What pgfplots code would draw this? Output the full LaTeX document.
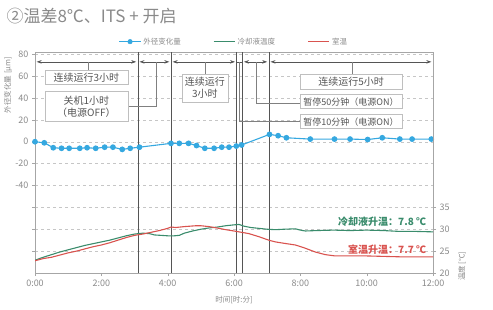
\documentclass[border=0pt]{standalone}
\usepackage{pgfplots}
\pgfplotsset{compat=1.18}
\usepackage{fontspec}
\setmainfont{Noto Sans CJK SC}
\usetikzlibrary{arrows.meta}
\definecolor{cblue}{HTML}{35A8E0}
\definecolor{cgreen}{HTML}{3A8C6C}
\definecolor{cred}{HTML}{D9534F}
\definecolor{tgray}{HTML}{8A8A8A}
\definecolor{agray}{HTML}{555555}
\begin{document}
\begin{tikzpicture}
\useasboundingbox (0,0) rectangle (493pt,309pt);
\node[anchor=west, text=tgray, font=\fontsize{17}{18}\selectfont] at (3pt,293pt) {②温差8℃、ITS + 开启};
\begin{axis}[
  at={(35pt,36pt)}, anchor=south west,
  width=398pt, height=221pt, scale only axis,
  xmin=0, xmax=12, ymin=-120, ymax=82,
  xtick={0,2,...,12}, xticklabels={0:00,2:00,4:00,6:00,8:00,10:00,12:00},
  ytick={-100,-80,...,80}, yticklabels={,,,-40,-20,0,20,40,60,80},
  xtick pos=bottom, ytick pos=left,
  tick align=outside, major tick length=3pt,
  ymajorgrids, grid style={dashed, gray!45},
  axis line style={gray!70},
  tick style={gray!70},
  /pgf/number format/assume math mode=true,
  ticklabel style={text=tgray, font=\fontsize{9}{10}\selectfont},
  xlabel={时间[时:分]}, xlabel style={text=tgray, font=\fontsize{7.5}{8}\selectfont, at={(axis description cs:0.5,-0.09)}, anchor=north},
  ylabel={外径变化量 [μm]}, ylabel style={text=tgray, font=\fontsize{7.5}{8}\selectfont, at={(axis description cs:-0.068,0.85)}, anchor=center},
  clip=false,
]
\addplot[cblue, line width=1.1pt, mark=*, mark size=2.3pt, mark options={fill=cblue, draw=cblue}] coordinates {
(0,0) (0.28,-1) (0.55,-5.5) (0.8,-6) (1.03,-6) (1.35,-6) (1.57,-5.5) (1.83,-6)
(2.1,-5) (2.35,-5) (2.63,-7) (2.87,-6) (3.15,-5)
(4.1,-1.5) (4.35,-1.5) (4.63,-1.5) (4.87,-3.5) (5.12,-6) (5.4,-6) (5.63,-5) (5.85,-5)
(6.07,-4) (6.23,-3) (7.07,6.7) (7.33,5.5) (7.58,3.6) (8.3,2.4) (9.03,2.4) (9.5,2.4)
(10.03,2) (10.47,3.6) (11,2.4) (11.37,2.4) (11.95,2.4)
};
% event lines
\foreach \xx in {3.1,4.1,6.08,6.25,7.05} {
  \edef\temp{\noexpand\draw[agray, line width=0.5pt] (axis cs:\xx,-120) -- (axis cs:\xx,82);}
  \temp
}
% arrows
\tikzset{evarr/.style={agray, line width=0.6pt, {Stealth[length=5pt,width=3.5pt]}-{Stealth[length=5pt,width=3.5pt]}}}
\draw[evarr] (axis cs:0.05,73) -- (axis cs:3.05,73);
\draw[evarr] (axis cs:3.15,73) -- (axis cs:4.05,73);
\draw[evarr] (axis cs:4.15,73) -- (axis cs:6.03,73);
\draw[agray, line width=0.6pt] (axis cs:6.08,73) -- (axis cs:6.25,73);
\draw[evarr] (axis cs:6.3,73) -- (axis cs:7.0,73);
\draw[evarr] (axis cs:7.1,73) -- (axis cs:11.95,73);
% connectors
\draw[gray, line width=0.5pt] (axis cs:1.6,73) -- (axis cs:1.6,65);
\draw[gray, line width=0.5pt] (axis cs:2.8,32) -- (axis cs:3.66,32) -- (axis cs:3.66,73);
\draw[gray, line width=0.5pt] (axis cs:5.12,73) -- (axis cs:5.12,62);
\draw[gray, line width=0.5pt] (axis cs:9.56,73) -- (axis cs:9.56,62);
\draw[gray, line width=0.5pt] (axis cs:8.0,35.6) -- (axis cs:6.66,35.6) -- (axis cs:6.66,73);
\draw[gray, line width=0.5pt] (axis cs:8.0,18.3) -- (axis cs:6.16,18.3) -- (axis cs:6.16,73);
% boxes
\tikzset{bx/.style={draw=gray!50, fill=white, line width=0.5pt, text=agray, font=\fontsize{10}{12}\selectfont, inner sep=1pt, align=center}}
\node[bx, minimum width=83pt, minimum height=14pt] at (axis cs:1.55,58.5) {连续运行3小时};
\node[bx, minimum width=83pt, minimum height=30pt] at (axis cs:1.55,32) {关机1小时\\（电源OFF）};
\node[bx, minimum width=46pt, minimum height=28pt] at (axis cs:5.12,49) {连续运行\\3小时};
\node[bx, minimum width=102pt, minimum height=15pt] at (axis cs:9.53,55) {连续运行5小时};
\node[bx, minimum width=102pt, minimum height=14pt, font=\fontsize{9}{11}\selectfont] at (axis cs:9.53,36.6) {暂停50分钟（电源ON）};
\node[bx, minimum width=102pt, minimum height=14pt, font=\fontsize{9}{11}\selectfont] at (axis cs:9.53,18.3) {暂停10分钟（电源ON）};
\node[anchor=east, text=cgreen, font=\fontsize{10}{12}\selectfont\bfseries] at (axis cs:11.9,-73) {冷却液升温：7.8 ℃};
\node[anchor=east, text=cred, font=\fontsize{10}{12}\selectfont\bfseries] at (axis cs:11.9,-98.5) {室温升温：7.7 ℃};
\end{axis}
\begin{axis}[
  at={(35pt,36pt)}, anchor=south west,
  width=398pt, height=221pt, scale only axis,
  xmin=0, xmax=12, ymin=20, ymax=70.5,
  axis x line=none, axis y line*=right,
  ytick={20,25,30,35},
  tick align=outside, major tick length=3pt,
  axis line style={gray!70}, tick style={gray!70},
  /pgf/number format/assume math mode=true,
  ticklabel style={text=tgray, font=\fontsize{9}{10}\selectfont},
  ylabel={温度 [℃]}, ylabel style={text=tgray, font=\fontsize{7.5}{8}\selectfont, at={(axis description cs:1.073,0.03)}, anchor=center, rotate=0},
  legend style={at={(0.5,1.01)}, anchor=south, draw=white, fill=white, legend columns=3,
    font=\fontsize{7.5}{8}\selectfont,
    /tikz/every even column/.append style={column sep=30pt}},
  legend image code/.code={\draw[#1, line width=1.6pt] (0cm,0cm) -- (0.75cm,0cm);},
]
\addlegendimage{legend image code/.code={\draw[cblue, line width=1.1pt] (0cm,0cm) -- (0.75cm,0cm); \fill[cblue] (0.375cm,0cm) circle (2.3pt);}}
\addlegendentry{\textcolor{tgray}{外径变化量}}
\addplot[cgreen, line width=1.1pt] coordinates {
(0,22.9) (0.1,23.2) (0.25,23.6) (0.5,24.2) (0.75,24.8) (1.0,25.3) (1.25,25.8) (1.5,26.3)
(1.75,26.7) (2.0,27.1) (2.25,27.5) (2.5,28.0) (2.75,28.5) (3.0,28.9) (3.25,29.1) (3.45,29.0)
(3.6,28.7) (3.8,28.6) (4.0,28.5) (4.2,28.5) (4.35,28.6) (4.5,29.1) (4.75,29.6) (5.0,30.0)
(5.25,30.3) (5.5,30.5) (5.75,30.8) (6.0,31.0) (6.15,31.1) (6.3,30.7) (6.5,30.4) (6.75,30.2)
(7.0,30.0) (7.25,29.9) (7.5,30.0) (7.85,30.1) (8.0,29.8) (8.15,29.6) (8.5,29.7) (9.0,29.8)
(9.5,29.7) (10.0,29.8) (10.5,29.7) (11.0,29.5) (11.5,29.5) (12.0,29.4)
};
\addlegendentry{\textcolor{tgray}{冷却液温度}}
\addplot[cred, line width=1.1pt] coordinates {
(0,22.8) (0.25,23.3) (0.5,23.6) (0.75,24.1) (1.0,24.6) (1.25,25.0) (1.5,25.5) (1.75,26.0)
(2.0,26.4) (2.25,26.9) (2.5,27.5) (2.75,28.1) (3.0,28.6) (3.25,28.9) (3.5,29.3) (3.75,29.7)
(4.0,30.2) (4.1,30.5) (4.25,30.4) (4.5,30.6) (4.85,30.8) (5.0,30.8) (5.25,30.6) (5.55,30.2)
(5.75,29.9) (6.0,29.6) (6.15,29.4) (6.45,29.0) (6.75,28.3) (7.05,27.5) (7.25,27.1) (7.5,26.8)
(7.85,26.4) (8.1,25.8) (8.45,24.8) (8.75,24.2) (9.05,23.9) (9.5,23.9) (10.0,23.9) (10.5,23.8)
(11.0,23.7) (11.5,23.7) (12.0,23.7)
};
\addlegendentry{\textcolor{tgray}{室温}}
\end{axis}
\end{tikzpicture}
\end{document}
